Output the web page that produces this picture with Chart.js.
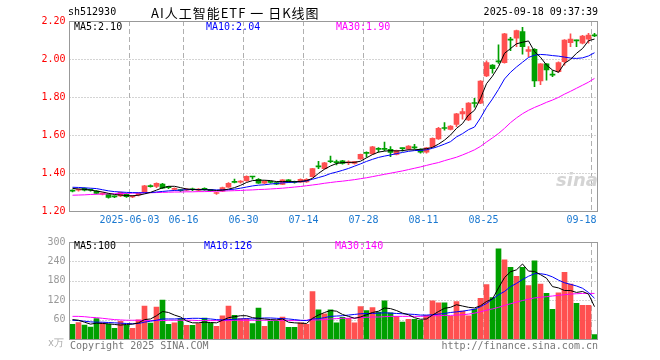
<!DOCTYPE html>
<html><head><meta charset="utf-8">
<script src="https://cdn.jsdelivr.net/npm/chart.js@4.4.1/dist/chart.umd.min.js"></script>
<style>
html,body{margin:0;padding:0;background:#fff;width:660px;height:360px;overflow:hidden;}
#wrap{position:relative;width:660px;height:360px;}
.t{position:absolute;white-space:nowrap;font:10px 'DejaVu Sans Mono',monospace;line-height:12px;}
canvas{position:absolute;left:0;}
</style></head><body>
<div id="wrap">
<canvas id="k" width="660" height="232" style="top:0"></canvas>
<canvas id="v" width="660" height="128" style="top:232px"></canvas>
<div class="t" style="left:68px;top:6px;color:#000">sh512930</div>
<div class="t" style="left:151px;top:5px;color:#000;font:13px 'Noto Sans CJK SC',sans-serif;line-height:15px;letter-spacing:1px">AI人工智能ETF 一 日K线图</div>
<div class="t" style="right:62px;top:6px;color:#000">2025-09-18 09:37:39</div>
<div class="t" style="left:74px;top:21px;color:#000">MA5:2.10</div>
<div class="t" style="left:206px;top:21px;color:#0000ff">MA10:2.04</div>
<div class="t" style="left:336px;top:21px;color:#ff00ff">MA30:1.90</div>
<div class="t" style="left:74px;top:240px;color:#000">MA5:100</div>
<div class="t" style="left:204px;top:240px;color:#0000ff">MA10:126</div>
<div class="t" style="left:335px;top:240px;color:#ff00ff">MA30:140</div>
<div class="t" style="left:48px;top:337px;color:#aaa">x万</div>
<div class="t" style="left:70px;top:340px;color:#777">Copyright 2025 SINA.COM</div>
<div class="t" style="right:62px;top:340px;color:#777">http://finance.sina.com.cn</div>
<div class="t" style="left:556px;top:170px;color:#d4d4d4;font:italic bold 18px 'DejaVu Sans',sans-serif;line-height:20px">sina</div>
</div>
<script>
const dates = ["05-19","05-20","05-21","05-22","05-23","05-26","05-27","05-28","05-29","05-30",
"06-03","06-04","06-05","06-06","06-09","06-10","06-11","06-12","06-13","06-16","06-17","06-18","06-19","06-20",
"06-23","06-24","06-25","06-26","06-27","06-30","07-01","07-02","07-03","07-04","07-07","07-08","07-09","07-10","07-11",
"07-14","07-15","07-16","07-17","07-18","07-21","07-22","07-23","07-24","07-25","07-28","07-29","07-30","07-31",
"08-01","08-04","08-05","08-06","08-07","08-08","08-11","08-12","08-13","08-14","08-15","08-18","08-19","08-20","08-21","08-22",
"08-25","08-26","08-27","08-28","08-29","09-01","09-02","09-03","09-04","09-05","09-08","09-09","09-10","09-11","09-12",
"09-15","09-16","09-17","09-18"];
const dateLabelKeys = ["06-03","06-16","06-30","07-14","07-28","08-11","08-25","09-18"];
const dateLabelTexts = ["2025-06-03","06-16","06-30","07-14","07-28","08-11","08-25","09-18"];
const priceTicks = [1.20,1.40,1.60,1.80,2.00,2.20];
const volTicks = [0,60,120,180,240,300];

const open  = [1.307,1.309,1.319,1.311,1.305,1.289,1.288,1.276,1.280,1.288,1.274,1.284,1.297,1.330,1.330,1.342,1.325,1.314,1.309,1.310,1.314,1.310,1.316,1.309,1.292,1.305,1.326,1.353,1.352,1.360,1.380,1.367,1.347,1.353,1.350,1.340,1.364,1.353,1.352,1.353,1.381,1.434,1.423,1.461,1.457,1.464,1.453,1.450,1.474,1.505,1.500,1.526,1.526,1.525,1.498,1.530,1.525,1.534,1.525,1.509,1.538,1.580,1.636,1.630,1.656,1.711,1.679,1.768,1.767,1.911,1.968,1.987,1.981,2.101,2.109,2.144,2.040,2.051,1.884,1.974,1.917,1.933,1.986,2.086,2.097,2.083,2.105,2.124];
const close = [1.305,1.311,1.309,1.309,1.293,1.291,1.272,1.274,1.298,1.275,1.276,1.293,1.332,1.328,1.346,1.320,1.323,1.316,1.307,1.312,1.312,1.313,1.314,1.307,1.294,1.323,1.346,1.351,1.355,1.382,1.379,1.347,1.357,1.351,1.341,1.364,1.352,1.351,1.367,1.367,1.423,1.432,1.454,1.459,1.455,1.450,1.455,1.460,1.498,1.503,1.538,1.524,1.524,1.508,1.518,1.528,1.542,1.532,1.509,1.532,1.583,1.635,1.634,1.647,1.711,1.723,1.768,1.766,1.884,1.981,1.949,1.985,2.132,2.099,2.149,2.065,2.050,1.884,1.974,1.942,1.915,1.981,2.100,2.105,2.095,2.121,2.126,2.122];
const high  = [1.312,1.316,1.322,1.315,1.308,1.296,1.290,1.280,1.300,1.292,1.282,1.296,1.335,1.338,1.348,1.345,1.330,1.322,1.313,1.318,1.320,1.318,1.322,1.313,1.298,1.326,1.350,1.368,1.360,1.385,1.381,1.370,1.360,1.358,1.352,1.366,1.366,1.358,1.369,1.370,1.425,1.461,1.456,1.489,1.468,1.467,1.464,1.462,1.500,1.511,1.540,1.534,1.563,1.539,1.520,1.531,1.544,1.551,1.527,1.535,1.585,1.640,1.665,1.650,1.714,1.740,1.770,1.793,1.886,1.991,1.970,2.074,2.135,2.114,2.152,2.167,2.065,2.055,1.976,1.976,1.939,1.985,2.102,2.132,2.100,2.125,2.135,2.135];
const low   = [1.300,1.304,1.306,1.305,1.290,1.284,1.268,1.270,1.276,1.272,1.270,1.280,1.295,1.326,1.323,1.318,1.318,1.310,1.302,1.306,1.307,1.305,1.309,1.303,1.287,1.302,1.324,1.348,1.346,1.356,1.367,1.345,1.344,1.346,1.338,1.338,1.350,1.347,1.350,1.350,1.378,1.423,1.420,1.454,1.442,1.447,1.444,1.447,1.472,1.483,1.498,1.510,1.518,1.486,1.495,1.515,1.522,1.525,1.505,1.505,1.535,1.577,1.626,1.627,1.644,1.683,1.676,1.746,1.765,1.907,1.925,1.977,1.978,2.044,2.065,2.026,2.012,1.854,1.865,1.889,1.907,1.930,1.968,2.065,2.065,2.080,2.083,2.117];

const ma5  = [1.319,1.316,1.314,1.310,1.305,1.300,1.293,1.287,1.284,1.281,1.280,1.283,1.290,1.298,1.310,1.322,1.330,1.330,1.323,1.316,1.313,1.312,1.312,1.311,1.308,1.310,1.315,1.323,1.335,1.350,1.360,1.362,1.362,1.360,1.355,1.355,1.355,1.354,1.356,1.360,1.372,1.398,1.420,1.437,1.450,1.455,1.456,1.456,1.462,1.480,1.497,1.510,1.515,1.518,1.516,1.518,1.522,1.522,1.525,1.528,1.535,1.552,1.573,1.600,1.635,1.660,1.705,1.730,1.793,1.870,1.910,1.960,2.030,2.055,2.080,2.088,2.095,2.039,2.009,1.968,1.942,1.930,1.977,1.998,2.030,2.055,2.096,2.105];
const ma10 = [1.325,1.324,1.322,1.320,1.318,1.312,1.306,1.302,1.300,1.298,1.297,1.296,1.296,1.297,1.300,1.303,1.306,1.308,1.310,1.312,1.313,1.313,1.312,1.312,1.311,1.311,1.312,1.315,1.320,1.326,1.332,1.336,1.338,1.342,1.345,1.348,1.350,1.352,1.354,1.358,1.367,1.376,1.385,1.397,1.405,1.414,1.424,1.436,1.448,1.461,1.472,1.482,1.489,1.495,1.502,1.508,1.514,1.518,1.519,1.522,1.530,1.540,1.552,1.565,1.590,1.607,1.628,1.642,1.690,1.745,1.790,1.840,1.895,1.930,1.958,1.983,2.008,2.020,2.024,2.022,2.018,2.015,2.010,2.005,2.003,2.006,2.016,2.033];
const ma30 = [1.283,1.284,1.285,1.287,1.288,1.289,1.290,1.291,1.292,1.293,1.294,1.295,1.296,1.296,1.297,1.298,1.299,1.300,1.300,1.301,1.301,1.302,1.302,1.303,1.304,1.305,1.306,1.307,1.308,1.310,1.311,1.313,1.314,1.316,1.318,1.320,1.323,1.326,1.329,1.333,1.337,1.341,1.346,1.350,1.354,1.357,1.361,1.365,1.370,1.375,1.381,1.387,1.393,1.399,1.405,1.411,1.418,1.425,1.432,1.440,1.448,1.455,1.465,1.474,1.483,1.495,1.508,1.522,1.540,1.563,1.585,1.608,1.635,1.665,1.690,1.712,1.730,1.745,1.758,1.772,1.784,1.798,1.815,1.830,1.846,1.862,1.878,1.898];

const volume = [45,51,43,37,63,50,45,33,55,42,33,59,102,49,99,120,45,50,63,42,42,48,65,49,39,72,102,73,63,63,48,96,39,55,55,68,36,36,50,45,147,90,78,90,50,67,64,50,100,88,97,83,118,81,70,52,61,61,58,73,118,112,112,70,116,86,72,92,126,168,128,279,245,222,194,222,165,242,170,141,92,143,206,170,110,104,104,14];
const vma5  = [60,58,52,46,49,48,47,45,43,45,46,50,60,62,72,85,82,74,68,56,50,50,52,51,50,58,66,69,72,72,66,64,62,60,59,62,52,50,49,48,64,74,82,88,86,76,70,64,68,75,82,86,96,94,88,80,75,66,61,62,74,85,95,98,106,102,98,96,103,116,124,158,190,208,214,232,210,209,199,188,162,158,150,150,144,147,139,100];
const vma10 = [58,57,55,53,52,52,51,50,49,48,47,48,52,55,58,62,62,62,63,63,64,64,63,62,60,59,60,61,62,63,62,64,65,65,64,63,62,60,58,57,62,63,66,70,71,72,74,76,78,79,79,80,81,80,79,78,77,76,74,74,75,77,79,82,84,86,89,92,100,110,124,137,147,162,172,184,194,202,202,199,192,182,174,169,164,157,144,126];
const vma30 = [70,70,69,67,66,64,62,60,59,58,58,58,57,57,57,57,58,58,58,58,58,57,57,57,57,57,57,58,58,58,58,58,58,58,58,58,57,57,57,58,59,59,60,62,63,64,64,65,66,67,68,68,69,70,70,70,70,70,70,71,72,72,73,73,74,75,77,80,84,89,93,98,104,109,114,119,123,127,129,131,133,135,137,139,140,141,141,141];

const UP='#ff5050', DOWN='#00a000';
const colors = close.map((c,i)=> c>=open[i] ? UP : DOWN);
const labelIdx = dateLabelKeys.map(k=>dates.indexOf(k));

function frame(withLabels){
  return {
    id:'frame',
    beforeDatasetsDraw(chart){
      const {ctx, chartArea:a, scales:{x,y}} = chart;
      const slot = (a.right-a.left)/dates.length;
      ctx.save(); ctx.lineWidth=1;
      ctx.strokeStyle='#a8a8a8'; ctx.setLineDash([1,2]);
      y.ticks.forEach(t=>{
        const py=Math.round(y.getPixelForValue(t.value))+0.5;
        if(py<=a.top+1||py>=a.bottom-1) return;
        ctx.beginPath(); ctx.moveTo(a.left,py); ctx.lineTo(a.right,py); ctx.stroke();
      });
      ctx.setLineDash([5,3]); ctx.strokeStyle='#b0b0b0';
      labelIdx.forEach(i=>{
        const px=Math.floor(x.getPixelForValue(i)-slot/2)+0.5;
        ctx.beginPath(); ctx.moveTo(px,a.top); ctx.lineTo(px,a.bottom); ctx.stroke();
      });
      ctx.restore();
    },
    afterDraw(chart){
      const {ctx, chartArea:a, scales:{x}} = chart;
      const slot = (a.right-a.left)/dates.length;
      ctx.save(); ctx.setLineDash([]); ctx.strokeStyle='#999'; ctx.lineWidth=1;
      const l=Math.floor(a.left)+0.5, r=Math.floor(a.right)+0.5, t=Math.round(a.top)+0.5, b=Math.round(a.bottom)+0.5;
      ctx.strokeRect(l, t, r-l, b-t);
      if(withLabels){
        ctx.font="10px 'DejaVu Sans Mono', monospace"; ctx.fillStyle='#1a78d0'; ctx.textBaseline='middle';
        labelIdx.forEach((i,k)=>{
          const px=Math.floor(x.getPixelForValue(i)-slot/2)+0.5;
          const s=dateLabelTexts[k]; const w=ctx.measureText(s).width;
          let lx=px-w/2; if(lx+w>a.right) lx=a.right-w-1;
          ctx.fillText(s,lx,a.bottom+9);
        });
      }
      ctx.restore();
    }
  };
}

const lineDs = (data,color)=>({type:'line',data,borderColor:color,borderWidth:1,pointRadius:0,tension:0,order:0,fill:false});

new Chart(document.getElementById('k'),{
  type:'bar',
  data:{labels:dates,datasets:[
    lineDs(ma5,'#000000'), lineDs(ma10,'#0000ff'), lineDs(ma30,'#ff00ff'),
    {data:open.map((o,i)=>[o,close[i]]),backgroundColor:colors,barThickness:5,minBarLength:1,grouped:false,order:1,borderWidth:0},
    {data:low.map((l,i)=>[l,high[i]]),backgroundColor:colors,barThickness:1,grouped:false,order:2,borderWidth:0}
  ]},
  options:{
    responsive:false,animation:false,events:[],
    layout:{padding:{left:0,right:62.5,top:21,bottom:21}},
    plugins:{legend:{display:false},tooltip:{enabled:false}},
    scales:{
      x:{display:false,offset:true},
      y:{min:1.2,max:2.2,afterBuildTicks:s=>{s.ticks=priceTicks.map(v=>({value:v}));},
         afterFit:s=>{s.width=69.5;},
         grid:{display:false,drawTicks:false},border:{display:false},
         ticks:{color:'#ff0000',padding:4,font:{family:"'DejaVu Sans Mono', monospace",size:10},callback:v=>Number(v).toFixed(2)}}
    }
  },
  plugins:[frame(true)]
});

new Chart(document.getElementById('v'),{
  type:'bar',
  data:{labels:dates,datasets:[
    lineDs(vma5,'#000000'), lineDs(vma10,'#0000ff'), lineDs(vma30,'#ff00ff'),
    {data:volume,backgroundColor:colors,barThickness:5,grouped:false,order:1,borderWidth:0}
  ]},
  options:{
    responsive:false,animation:false,events:[],
    layout:{padding:{left:0,right:62.5,top:8,bottom:21}},
    plugins:{legend:{display:false},tooltip:{enabled:false}},
    scales:{
      x:{display:false,offset:true},
      y:{min:0,max:300,afterBuildTicks:s=>{s.ticks=volTicks.map(v=>({value:v}));},
         afterFit:s=>{s.width=69.5;},
         grid:{display:false,drawTicks:false},border:{display:false},
         ticks:{color:'#999999',padding:4,font:{family:"'DejaVu Sans Mono', monospace",size:10},callback:v=>v===0?'':String(v)}}
    }
  },
  plugins:[frame(false)]
});
</script>
</body></html>
